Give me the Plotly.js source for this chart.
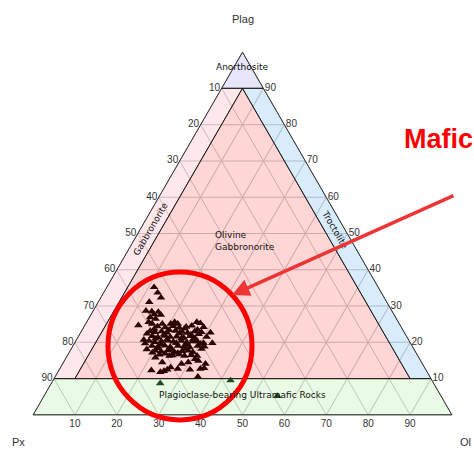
<!DOCTYPE html>
<html><head><meta charset="utf-8">
<script src="https://cdn.plot.ly/plotly-3.0.1.min.js"></script>
<style>html,body{margin:0;padding:0;background:#fff;overflow:hidden;} #chart{width:474px;height:449px;}</style>
</head><body><div id="chart"></div>
<script>
// Axis (vertex) names and tick labels
const vertexNames = ['Plag', 'Px', 'Ol'];
const tickVals = [10, 20, 30, 40, 50, 60, 70, 80, 90];
const tickText = ['90', '80', '70', '60', '50', '40', '30', '20', '10'];

// Sample compositions (modal %), Px = 100 - Plag - Ol
const samplePlag = [35.2,33.7,32.3,31.1,28.7,28.5,27.7,28.4,27.6,26.9,26.5,25.6,25.1,24.7,25.1,25.1,25.6,25.1,25.6,25.3,
  22.7,19.8,20.7,18.1,15.8,14.5,16.3,12.3,11.8,12.1,12.5,13.1,12.7,14.1,12.5,14.5,15.4,10.5,12.9,12.7,
  14.9,14.1,16.3,8.7,9.5,5.2,21.1,19.8,20.3,
  24.4,24.1,24.5,24.0,24.3,24.6,24.2, 23.7,23.4,23.8,23.5,
  23.1,22.8,23.0,22.7,23.2,22.9,22.6,23.0,22.8, 22.4,22.1,22.5,22.2,22.3,
  21.7,21.4,21.8,21.5,21.6,21.3,21.7,21.5, 21.0,20.8,21.1,20.9,
  20.4,20.1,20.3,20.5,20.2,20.4,20.0,20.3, 19.7,19.5,19.8,19.4,19.6,
  19.0,18.8,19.1,18.7,19.0,18.9,18.6,19.0,18.8, 18.4,18.1,18.3,18.2,
  17.7,17.5,17.8,17.4,17.6,17.7,17.3, 17.2,16.9,17.1, 16.6,16.4,16.7,16.3,16.5];
const sampleOl = [11.3,12.9,14.4,12.2,12.6,14.1,15.1,15.7,16.7,14.5,16.0,14.8,15.9,12.8,18.3,20.3,21.0,22.0,26.3,27.3,
  31.0,32.9,16.1,18.1,21.3,23.6,24.4,22.1,24.5,25.2,25.8,26.3,28.2,28.4,31.2,29.8,31.0,34.1,34.4,33.6,
  32.0,34.1,31.0,26.0,42.4,55.7,28.1,30.8,29.0,
  17.5,19.5,21.2,22.9,24.4,25.6,28.6, 17.1,20.8,24.3,27.5,
  16.4,17.7,19.2,20.6,22.4,24.1,25.6,27.1,28.8, 16.0,20.2,23.7,26.6,28.4,
  17.6,19.1,20.6,22.0,23.5,25.3,26.7,30.7, 18.7,21.6,24.9,27.8,
  17.5,19.0,20.5,22.0,23.4,25.2,26.7,27.9, 16.9,20.8,24.3,27.2,30.2,
  18.9,20.4,21.9,23.4,25.1,26.6,28.1,29.8,31.5, 20.5,24.0,27.4,31.1,
  20.3,21.8,23.3,25.0,26.8,28.2,29.5, 19.9,23.1,26.0, 21.9,25.1,26.6,28.0,29.5];

// Classification fields (Plag–Px–Ol)
const fieldNames = ['Anorthosite', 'Gabbronorite', 'Olivine Gabbronorite', 'Troctolite', 'Plagioclase-bearing Ultramafic Rocks'];
const fieldPlag = [[100,90,90,100], [90,10,10,90,90], [90,10,10,90], [90,90,10,10,90], [10,0,0,10,10]];
const fieldPx   = [[0,10,0,0], [10,90,85,5,10], [5,85,5,5], [0,5,5,0,0], [90,100,0,0,90]];
const fieldOl   = [[0,0,10,0], [0,0,5,5,0], [5,5,85,5], [10,5,85,90,10], [0,0,100,90,0]];
const fieldColors = ['rgba(213,213,247,0.6)', 'rgba(255,217,223,0.6)', 'rgba(255,187,187,0.6)', 'rgba(190,223,248,0.6)', 'rgba(220,248,212,0.6)'];
// Field label anchor points (Plag, Ol)
const labelPlag = [95.8, 51.2, 47.9, 50.9, 5.6];
const labelOl = [2.1, 2.5, 19.0, 46.6, 47.2];

const traces = fieldNames.map((n, i) => ({
  type: 'scatterternary', mode: 'lines', name: n,
  a: fieldPlag[i], b: fieldPx[i], c: fieldOl[i],
  fill: 'toself', fillcolor: fieldColors[i],
  line: {color: 'rgba(20,20,20,0.9)', width: 1},
  hoverinfo: 'skip'
}));

traces.push({
  type: 'scatterternary', mode: 'markers', name: 'Samples',
  a: samplePlag, c: sampleOl,
  marker: {symbol: 'triangle-up', size: 7.5,
    color: samplePlag.map(p => p < 10 ? '#1f4a22' : '#2b0303'),
    line: {width: 0}}
});

function tp(a, c) { return {x: (c + a / 2) / 100, y: a / 100}; }

function ax() {
  return {
    title: {text: ''},
    tickmode: 'array', tickvals: tickVals, ticktext: tickText,
    tickfont: {size: 10, color: '#333', family: 'Arial, Liberation Sans, sans-serif'},
    ticks: '', showgrid: true, gridcolor: 'rgb(140,140,140)', gridwidth: 1,
    showline: true, linecolor: '#3a3a3a', linewidth: 1, layer: 'above traces'
  };
}

const lblFont = {family: 'DejaVu Sans, Verdana, sans-serif', size: 9, color: '#111'};
const titleFont = {family: 'Arial, Liberation Sans, sans-serif', size: 11, color: '#333'};
const annotations = [];
const p0 = tp(labelPlag[0], labelOl[0]);
annotations.push({xref: 'paper', yref: 'paper', x: p0.x, y: p0.y, text: fieldNames[0], showarrow: false, font: lblFont, xanchor: 'center', yanchor: 'middle'});
const p1 = tp(labelPlag[1], labelOl[1]);
annotations.push({xref: 'paper', yref: 'paper', x: p1.x, y: p1.y, text: fieldNames[1], showarrow: false, font: lblFont, textangle: -60, xanchor: 'center', yanchor: 'middle'});
const p2 = tp(labelPlag[2], labelOl[2]);
annotations.push({xref: 'paper', yref: 'paper', x: p2.x, y: p2.y, text: 'Olivine<br>Gabbronorite', showarrow: false, font: lblFont, align: 'left', xanchor: 'left', yanchor: 'middle'});
const p3 = tp(labelPlag[3], labelOl[3]);
annotations.push({xref: 'paper', yref: 'paper', x: p3.x, y: p3.y, text: fieldNames[3], showarrow: false, font: lblFont, textangle: 60, xanchor: 'center', yanchor: 'middle'});
const p4 = tp(labelPlag[4], labelOl[4]);
annotations.push({xref: 'paper', yref: 'paper', x: p4.x, y: p4.y, text: fieldNames[4], showarrow: false, font: lblFont, xanchor: 'center', yanchor: 'middle'});

// Vertex (axis) titles
annotations.push({xref: 'paper', yref: 'paper', x: 0.5, y: 1.0909, text: vertexNames[0], showarrow: false, font: titleFont, xanchor: 'center', yanchor: 'middle'});
annotations.push({xref: 'paper', yref: 'paper', x: -0.0549, y: -0.0745, text: vertexNames[1], showarrow: false, font: titleFont, xanchor: 'left', yanchor: 'middle'});
annotations.push({xref: 'paper', yref: 'paper', x: 1.0145, y: -0.0745, text: vertexNames[2], showarrow: false, font: titleFont, xanchor: 'left', yanchor: 'middle'});

// Highlight annotation
annotations.push({xref: 'paper', yref: 'paper', x: 0.4749, y: 0.3306, text: '', showarrow: true,
  ax: 223, ay: -100, arrowcolor: '#ee3535', arrowwidth: 3.5, arrowhead: 2, arrowsize: 1});
annotations.push({xref: 'paper', yref: 'paper', x: 0.8807, y: 0.760, text: '<b>Mafic</b>', showarrow: false,
  xanchor: 'left', yanchor: 'middle', font: {family: 'Arial, Liberation Sans, sans-serif', size: 27, color: '#ff0000'}});

const layout = {
  width: 474, height: 449,
  margin: {l: 33, r: 22, t: 52, b: 34},
  paper_bgcolor: '#ffffff', showlegend: false, hovermode: false,
  font: {family: 'Arial, Liberation Sans, sans-serif', color: '#333'},
  ternary: {sum: 100, bgcolor: '#ffffff', aaxis: ax(), baxis: ax(), caxis: ax()},
  shapes: [{type: 'circle', xref: 'paper', yref: 'paper', x0: 0.179, x1: 0.5227, y0: -0.0138, y1: 0.3939,
    line: {color: '#ff0000', width: 5}}],
  annotations: annotations
};

Plotly.newPlot('chart', traces, layout, {displayModeBar: false, staticPlot: true});
</script></body></html>
